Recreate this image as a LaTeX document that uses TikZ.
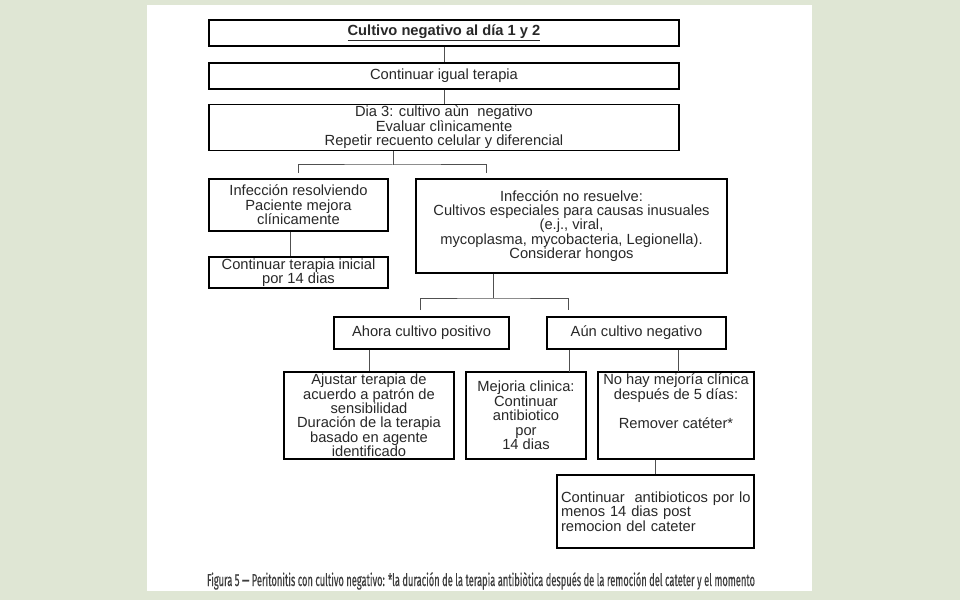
\documentclass[tikz,border=0pt]{standalone}
\usepackage{fontspec}
\usepackage{graphicx}
\setmainfont{Liberation Sans}
\newfontfamily\piefont{Fira Sans}[FakeBold=0.5]
\usetikzlibrary{positioning, calc}
\definecolor{fondo}{RGB}{223,230,212}
\definecolor{linea}{RGB}{80,80,80}
\definecolor{texto}{RGB}{40,40,40}
\tikzset{
  caja/.style={rectangle, draw=black, line width=1.1bp, inner sep=0pt, align=center, text=texto, font=\fontsize{14.7bp}{14.4bp}\selectfont},
  conector/.style={draw=linea, line width=1bp},
}

\begin{document}
\begin{tikzpicture}[x=1bp, y=-1bp]
  % Fondo
  \fill[fondo] (0,0) rectangle (960,600);
  \fill[white] (147,5) rectangle (812,591);
  \useasboundingbox (0,0) rectangle (960,600);

  % Nodos
  \node[caja, minimum width=470bp, minimum height=26bp] (inicio) at (444,33) {\textbf{\underline{Cultivo negativo al día 1 y 2}}};
  \node[caja, minimum width=470bp, minimum height=26bp] (continuar) at (444,76) {Continuar igual terapia};
  \node[caja, minimum width=470bp, minimum height=46bp] (dia3) at (444,127.5) {Dia 3: cultivo aùn~ negativo\\Evaluar clìnicamente\\Repetir recuento celular y diferencial};
  \node[caja, minimum width=179bp, minimum height=52bp] (resolviendo) at (298.5,205) {Infección resolviendo\\Paciente mejora\\clínicamente};
  \node[caja, minimum width=179bp, minimum height=31bp] (inicial) at (298.5,272.5) {Continuar terapia inicial\\por 14 dias};
  \node[caja, minimum width=311bp, minimum height=94bp] (noresuelve) at (571.5,226) {Infección no resuelve:\\Cultivos especiales para causas inusuales\\(e.j., viral,\\mycoplasma, mycobacteria, Legionella).\\Considerar hongos};
  \node[caja, minimum width=175bp, minimum height=32bp] (positivo) at (421.5,333) {Ahora cultivo positivo};
  \node[caja, minimum width=179bp, minimum height=32bp] (negativo) at (636.5,333) {Aún cultivo negativo};
  \node[caja, minimum width=170bp, minimum height=87bp] (ajustar) at (369,415.5) {Ajustar terapia de\\acuerdo a patrón de\\sensibilidad\\Duración de la terapia\\basado en agente\\identificado};
  \node[caja, minimum width=120bp, minimum height=87bp] (mejoria) at (526,415.5) {Mejoria clinica:\\Continuar\\antibiotico\\por\\14 dias};
  \node[caja, minimum width=156bp, minimum height=87bp] (nomejoria) at (676,415.5) {No hay mejoría clínica\\después de 5 días:\\[14.4bp]Remover catéter*\\[14.4bp]\mbox{}};
  \node[caja, minimum width=197bp, minimum height=73bp, align=left, text width=189bp] (postremocion) at (655.5,511.5) {\mbox{Continuar~ antibioticos por lo}\\menos 14 dias post\\remocion del cateter};
  \node[inner sep=0pt, text=texto!90, anchor=base] (pie) at (481,586) {\resizebox{548bp}{13.8bp}{\piefont Figura 5 — Peritonitis con cultivo negativo: *la duración de la terapia antibiòtica después de la remoción del cateter y el momento}};

  % Puntos de ramificacion
  \coordinate (ramaA) at (393,165);
  \coordinate (ramaAizq) at (298,173);
  \coordinate (ramaAder) at (486,173);
  \coordinate (ramaB) at (493,298);
  \coordinate (ramaBizq) at (420,310);
  \coordinate (ramaBder) at (568,310);
  \coordinate (bajaM) at (569,372);
  \coordinate (bajaN) at (678,372);

  % Conectores
  \draw[conector] (inicio) -- (continuar);
  \draw[conector] (continuar) -- (dia3);
  \draw[conector] (dia3.south -| ramaA) -- (ramaA);
  \draw[conector] (ramaAizq) |- (ramaA) -| (ramaAder);
  \draw[conector] ([xshift=-8bp]resolviendo.south) -- ([xshift=-8bp]inicial.north);
  \draw[conector] (noresuelve.south -| ramaB) -- (ramaB);
  \draw[conector] (ramaBizq) |- (ramaB) -| (ramaBder);
  \draw[conector] (positivo.south -| ajustar.north) -- (ajustar.north);
  \draw[conector] (negativo.south -| bajaM) -- (bajaM);
  \draw[conector] (negativo.south -| bajaN) -- (bajaN);
  \draw[conector] (nomejoria.south -| postremocion.north) -- (postremocion.north);
\end{tikzpicture}
\end{document}
